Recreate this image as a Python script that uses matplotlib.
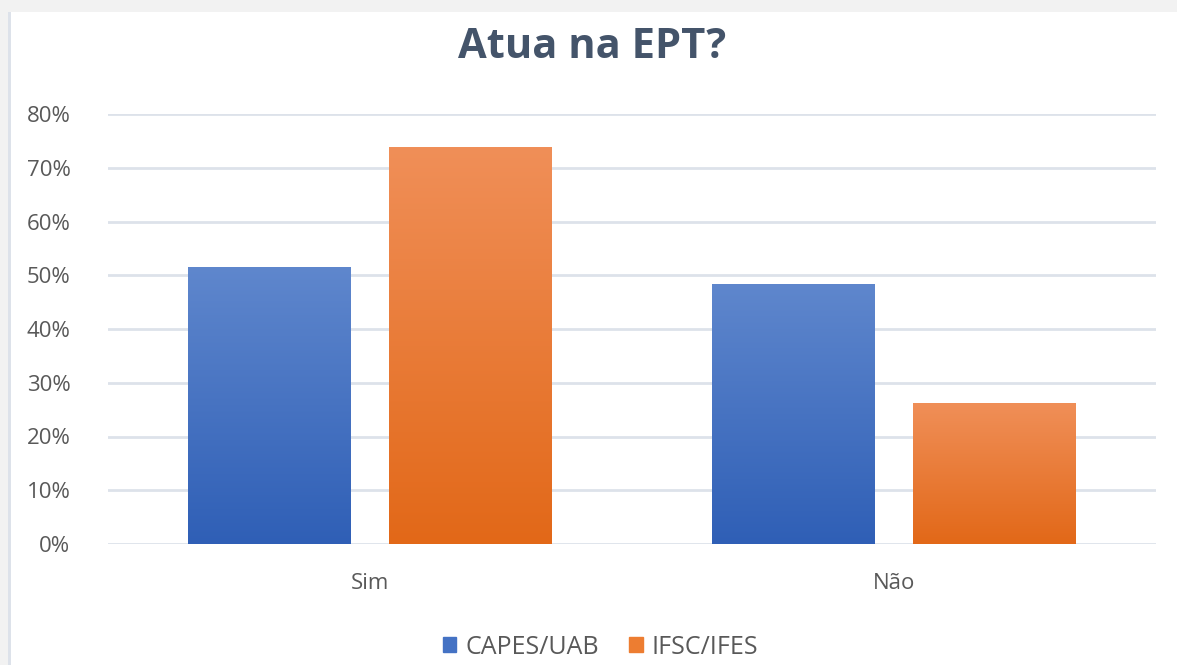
import numpy as np
import matplotlib.pyplot as plt
from matplotlib.colors import LinearSegmentedColormap
from matplotlib.patches import Rectangle
from matplotlib.ticker import PercentFormatter

plt.rcParams['font.family'] = ['Open Sans', 'DejaVu Sans']

categorias = ['Sim', 'Não']
series = ['CAPES/UAB', 'IFSC/IFES']
capes = [0.516, 0.484]
ifsc = [0.738, 0.262]
yticks = [0, 0.1, 0.2, 0.3, 0.4, 0.5, 0.6, 0.7, 0.8]

cores = ['#4472C4', '#ED7D31']
gradientes = [('#2F5FB6', '#5F87CD'), ('#E26818', '#F08F58')]
texto = '#595959'

fig = plt.figure(figsize=(11.77, 6.65), dpi=100)
fig.patch.set_facecolor('white')
# faixa cinza do topo e borda esquerda
fig.add_artist(Rectangle((0, 1 - 12 / 665), 1, 12 / 665, transform=fig.transFigure,
                         facecolor='#F2F2F2', edgecolor='none', zorder=0))
fig.add_artist(Rectangle((0, 0), 8 / 1177, 1, transform=fig.transFigure,
                         facecolor='#F2F2F2', edgecolor='none', zorder=0))
fig.add_artist(Rectangle((8 / 1177, 0), 2.5 / 1177, 1 - 12 / 665, transform=fig.transFigure,
                         facecolor='#DDE2EA', edgecolor='none', zorder=0))

ax = fig.add_axes([108 / 1177, 1 - 544 / 665, 1048 / 1177, 430 / 665])
x = np.arange(len(categorias))
larg = 0.311
desl = 0.192

barras = []
for i, (vals, nome) in enumerate(zip([capes, ifsc], series)):
    b = ax.bar(x + (i * 2 - 1) * desl, vals, width=larg, color=cores[i], label=nome,
               zorder=2, edgecolor='none')
    barras.append(b)

# preenchimento em degradê
grad = np.linspace(0, 1, 256).reshape(-1, 1)
for i, b in enumerate(barras):
    cmap = LinearSegmentedColormap.from_list('g%d' % i, gradientes[i])
    for r in b:
        x0, y0 = r.get_x(), r.get_y()
        w, h = r.get_width(), r.get_height()
        im = ax.imshow(grad, cmap=cmap, aspect='auto', origin='lower',
                       extent=[x0, x0 + w, y0, y0 + h], zorder=3)
        im.set_clip_path(r)

ax.set_xlim(-0.5, 1.5)
ax.set_ylim(0, 0.8)
ax.set_yticks(yticks)
ax.yaxis.set_major_formatter(PercentFormatter(1.0, decimals=0))
ax.set_xticks(x)
ax.set_xticklabels(categorias)
ax.grid(axis='y', color='#DDE2EA', linewidth=2, zorder=0)
ax.set_axisbelow(True)
for s in ax.spines.values():
    s.set_visible(False)
ax.tick_params(axis='both', length=0, colors=texto, labelsize=16)
ax.tick_params(axis='y', pad=27)
ax.tick_params(axis='x', pad=21)

fig.text(0.503, 1 - 47 / 665, 'Atua na EPT?', ha='center', va='center',
         fontsize=30, fontweight='bold', color='#44546A')

leg = fig.legend(handles=[Rectangle((0, 0), 1, 1, color=c) for c in cores], labels=series,
                 loc='center', bbox_to_anchor=(0.51, 1 - 647 / 665), ncol=2, frameon=False,
                 fontsize=18, handlelength=0.55, handleheight=0.55, handletextpad=0.35,
                 columnspacing=1.2, labelcolor=texto)

fig.savefig('out.png', dpi=100)
